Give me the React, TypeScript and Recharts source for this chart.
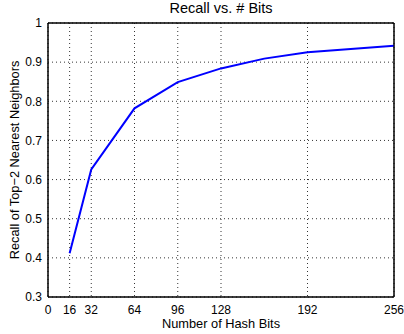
import React from 'react';
import { LineChart, Line, XAxis, YAxis, CartesianGrid, ReferenceArea } from 'recharts';

// recall of top-2 nearest neighbors against code length
const bits = [16, 32, 64, 96, 128, 160, 192, 256];
const recall = [0.412, 0.626, 0.782, 0.849, 0.884, 0.909, 0.925, 0.942];

const xTicks = [0, 16, 32, 64, 96, 128, 192, 256];
const yTicks = [0.3, 0.4, 0.5, 0.6, 0.7, 0.8, 0.9, 1];

const chartData = bits.map((b, i) => ({ bits: b, recall: recall[i] }));

const FONT = 'Liberation Sans, Arial, Helvetica, sans-serif';
const tickStyle = { fontSize: 12, fill: '#000', fontFamily: FONT };

export default function App() {
  return (
    <div style={{ position: 'absolute', left: 0, top: 0, width: 404, height: 334, background: '#fff' }}>
      <div
        style={{
          position: 'absolute',
          top: 0,
          left: 48,
          width: 346,
          textAlign: 'center',
          fontFamily: FONT,
          fontSize: 14.5,
          lineHeight: '17px',
          color: '#000',
        }}
      >
        Recall vs. # Bits
      </div>
      <LineChart
        width={404}
        height={334}
        data={chartData}
        margin={{ top: 23, right: 10, bottom: 0, left: 0 }}
      >
        <CartesianGrid stroke="#000" strokeDasharray="1 3" strokeWidth={0.8} />
        <XAxis
          dataKey="bits"
          type="number"
          domain={[0, 256]}
          ticks={xTicks}
          interval={0}
          height={37}
          stroke="#000"
          tickLine={false}
          tickMargin={2}
          tick={tickStyle}
          label={{ value: 'Number of Hash Bits', position: 'insideBottom', offset: 6, style: { ...tickStyle, fontSize: 12.8 } }}
        />
        <XAxis xAxisId="top" dataKey="bits" orientation="top" type="number" domain={[0, 256]} ticks={xTicks} mirror stroke="#000" tick={false} tickSize={5} />
        <YAxis
          type="number"
          domain={[0.3, 1]}
          ticks={yTicks}
          interval={0}
          width={48}
          stroke="#000"
          tickLine={false}
          tickMargin={0}
          tick={tickStyle}
          tickFormatter={(v: number) => String(v)}
          label={{
            value: 'Recall of Top\u22122 Nearest Neighbors',
            angle: -90,
            position: 'insideLeft',
            offset: 14,
            style: { ...tickStyle, fontSize: 12.8, textAnchor: 'middle' },
          }}
        />
        <YAxis yAxisId="right" orientation="right" type="number" domain={[0.3, 1]} ticks={yTicks} mirror stroke="#000" tick={false} tickSize={5} />
        <ReferenceArea x1={0} x2={256} y1={0.3} y2={1} fill="none" stroke="#000" strokeWidth={1} />
        <Line
          type="linear"
          dataKey="recall"
          stroke="#0000ff"
          strokeWidth={2}
          dot={false}
          isAnimationActive={false}
        />
      </LineChart>
    </div>
  );
}
